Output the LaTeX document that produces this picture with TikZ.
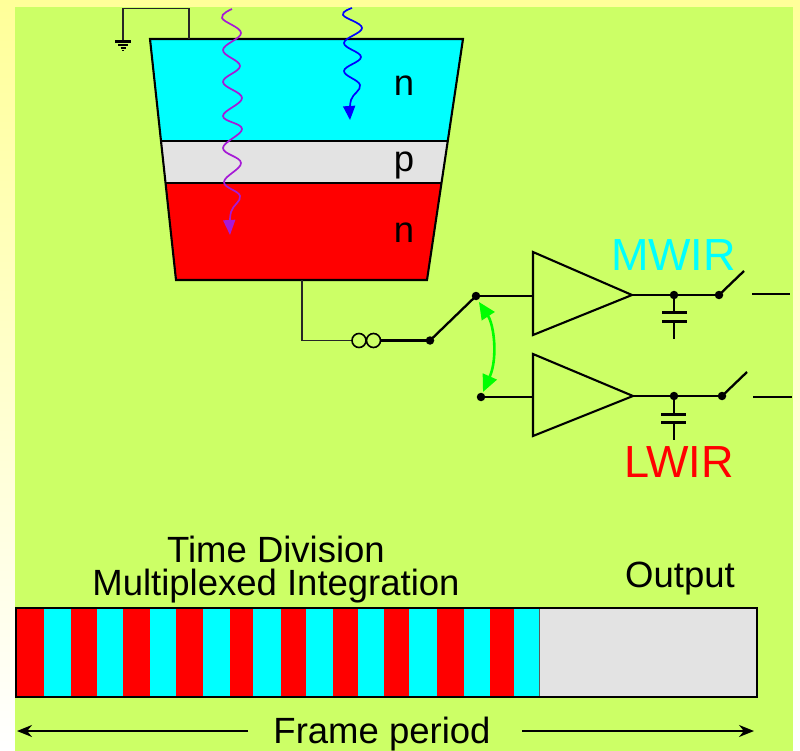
\documentclass[tikz,border=0pt]{standalone}
\usepackage{fontspec}
\setmainfont{Liberation Sans}
\usetikzlibrary{arrows.meta,calc}
\definecolor{bggreen}{HTML}{CCFF66}
\definecolor{cyanfill}{HTML}{00FFFF}
\definecolor{greyfill}{HTML}{E3E3E3}
\definecolor{purp}{HTML}{A61AD6}
\definecolor{paley}{HTML}{FFFF99}
\tikzset{
  txt/.style={font=\fontsize{36.5}{40}\selectfont,text=black,inner sep=0pt,anchor=base},
  big/.style={font=\fontsize{45}{48}\selectfont,inner sep=0pt,anchor=base},
  wire/.style={draw=black,line width=2.3pt},
  thin wire/.style={draw=black!85,line width=1.1pt},
  dot/.style={circle,fill=black,inner sep=0pt,minimum size=8.5pt},
  layer/.style={draw=black,line width=1.4pt},
  amp/.style={draw=black,line width=2.1pt},
  coil/.style={draw=black,circle,line width=1.6pt,minimum size=14pt,inner sep=0pt},
}
\begin{document}
\begin{tikzpicture}[x=1pt,y=-1pt]
\useasboundingbox (0,0) rectangle (800,751);
\shade[top color=paley,bottom color=white] (0,0) rectangle (800,751);
\fill[bggreen] (15,7) rectangle (793,751);

% detector layers
\coordinate (tl) at (150,39);
\coordinate (tr) at (463,39);
\coordinate (bl) at (176,280);
\coordinate (br) at (427,280);
\fill[cyanfill] (150,39) -- (463,39) -- (447.8,141) -- (161,141) -- cycle;
\fill[greyfill] (161,141) -- (447.8,141) -- (441.5,183) -- (165.5,183) -- cycle;
\fill[red] (165.5,183) -- (441.5,183) -- (427,280) -- (176,280) -- cycle;
\draw[layer] (161,141) -- (447.8,141) (165.5,183) -- (441.5,183);
\draw[line width=2.1pt,line join=miter] (tl) -- (tr) -- (br) -- (bl) -- cycle;

\node[txt] (nt) at (404,96) {n};
\node[txt] (pm) at (404,172) {p};
\node[txt] (nb) at (404,243) {n};

% ground
\coordinate (gt) at (189,39);
\coordinate (gg) at (123,41);
\draw[thin wire] (gt) -- (189,8.5) -- (123,8.5) -- (gg);
\draw[line width=2.6pt] (115,41.5) -- (131,41.5);
\draw[line width=1.6pt] (118,45) -- (128,45);
\draw[line width=1.3pt] (120.5,48) -- (125.5,48);
\draw[line width=1.3pt] (122.3,50.5) -- (123.7,50.5);

% photons
\draw[purp,line width=1.7pt,-{Triangle[length=15pt,width=12pt]}]
  plot[smooth,tension=0.66] coordinates {(232,9) (222,18) (241,33) (223,50) (240,66) (223,82) (242,98) (223,116) (242,129) (223,148) (241,163) (224,182) (240,196) (231,212) (230,235)};
\draw[blue,line width=1.7pt,-{Triangle[length=14pt,width=12pt]}]
  plot[smooth,tension=0.66] coordinates {(352,8) (343,15) (362,28) (344,43) (361,57) (344,71) (360,85) (351,100) (350,120)};

% readout
\coordinate (bc) at (302,280);
\node[coil] (c1) at (359,340.5) {};
\node[coil] (c2) at (373.5,340.5) {};
\draw[thin wire] (bc) -- (302,340.5) -- (c1.west);
\node[dot] (sw) at (430,340.5) {};
\node[dot] (sa) at (476,296) {};
\node[dot] (sb) at (481,397) {};
\draw[wire] (c2.east) -- (sw.center);
\draw[wire] (sw.center) -- (sa.center);

% amplifiers
\coordinate (a1) at (533,252);
\coordinate (a1b) at (533,335);
\coordinate (a1o) at (632,295);
\coordinate (a2) at (533,354);
\coordinate (a2b) at (533,436);
\coordinate (a2o) at (633,396);
\draw[amp,line join=miter] (a1) -- (a1o) -- (a1b) -- cycle;
\draw[amp,line join=miter] (a2) -- (a2o) -- (a2b) -- cycle;
\draw[wire] (sa.center) -- (533,296);
\draw[wire] (sb.center) -- (533,397);

% outputs
\node[dot] (m1) at (674,295) {};
\node[dot] (m2) at (719,295) {};
\coordinate (m3) at (744,271);
\draw[wire] (a1o) -- (m2.center);
\draw[wire] (m2.center) -- (m3);
\draw[wire] (752,294) -- (790,294);
\draw[wire] (m1.center) -- (674,312);
\draw[line width=3pt] (662,312.5) -- (687,312.5);
\draw[line width=3pt] (662,321.5) -- (687,321.5);
\draw[wire] (674,322) -- (674,339);

\node[dot] (l1) at (674,396) {};
\node[dot] (l2) at (722,396) {};
\coordinate (l3) at (747,372);
\draw[wire] (a2o) -- (l2.center);
\draw[wire] (l2.center) -- (l3);
\draw[wire] (753,397) -- (792,397);
\draw[wire] (l1.center) -- (674,414);
\draw[line width=3pt] (661,414.5) -- (686,414.5);
\draw[line width=3pt] (661,422.5) -- (686,422.5);
\draw[wire] (674,423) -- (674,440);

% green selector
\draw[green,line width=2.6pt,{Triangle[length=17pt,width=15pt]}-{Triangle[length=17pt,width=15pt]}]
  (479,302) .. controls (494,325) and (498,358) .. (483,392);

\node[big,text=cyanfill] (mw) at (673.5,271) {MWIR};
\node[big,text=red] (lw) at (679,477) {LWIR};

% time line
\node[txt] (t1) at (276,562) {Time Division};
\node[txt] (t2) at (276,595) {Multiplexed Integration};
\node[txt] (t3) at (680,587) {Output};
\node[txt] (t4) at (382,743) {Frame period};

\fill[greyfill] (16,608) rectangle (757,697);
\foreach \a/\b/\c in {16/44/red,44/71/cyanfill,71/97/red,97/123/cyanfill,123/150/red,150/176/cyanfill,176/203/red,203/230/cyanfill,230/253/red,253/281/cyanfill,281/306/red,306/333/cyanfill,333/358/red,358/384/cyanfill,384/409/red,409/437/cyanfill,437/464/red,464/490/cyanfill,490/514/red,514/539/cyanfill}{
  \fill[\c] (\a,608) rectangle (\b,697);
  \draw[black!65,line width=0.7pt] (\b,608) -- (\b,697);
}
\draw[line width=2pt] (16,608) rectangle (757,697);

\coordinate (fl) at (17,731);
\coordinate (fle) at (248,731);
\coordinate (fr) at (754,731);
\coordinate (fre) at (522,731);
\draw[line width=2pt,-{Stealth[length=15pt,width=12pt]}] (fle) -- (fl);
\draw[line width=2pt,-{Stealth[length=15pt,width=12pt]}] (fre) -- (fr);
\end{tikzpicture}
\end{document}
